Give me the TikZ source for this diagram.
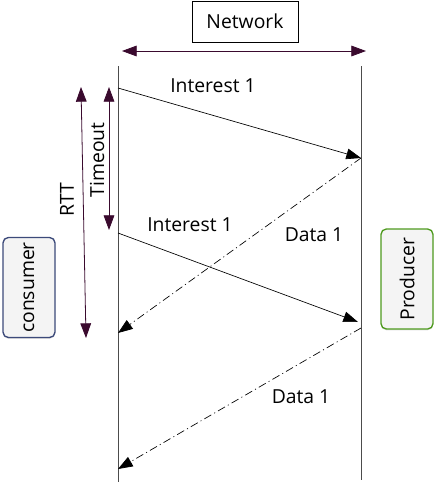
\documentclass[tikz,border=0pt]{standalone}
\usepackage{fontspec}
\setmainfont{Open Sans}
\usetikzlibrary{arrows.meta,shadows}
\definecolor{plum}{HTML}{3A0A2E}
\definecolor{consborder}{HTML}{3C4A7A}
\definecolor{prodborder}{HTML}{4E9A1E}
\definecolor{boxfill}{HTML}{F4F4F4}
\tikzset{
  px/.style={x=0.75pt,y=-0.75pt},
  lifeline/.style={draw=black!70,line width=0.6pt},
  msg/.style={draw=black,line width=0.5pt,-{Triangle[length=11pt,width=8pt]}},
  reply/.style={msg,dash pattern=on 6pt off 2.5pt on 0.8pt off 2.5pt},
  span/.style={draw=plum,line width=0.6pt,{Triangle[length=11pt,width=8pt,fill=plum]}-{Triangle[length=11pt,width=8pt,fill=plum]}},
  lbl/.style={font=\fontsize{14.5}{17}\selectfont,inner sep=0pt},
  actor/.style={rounded corners=4pt,line width=1pt,fill=boxfill,minimum height=39pt,minimum width=75pt,drop shadow={shadow xshift=0pt,shadow yshift=-1pt,opacity=0.25}},
}
\begin{document}
\begin{tikzpicture}[px]
\useasboundingbox (0,0) rectangle (433,486);
% network box and span
\node[draw,line width=0.5pt,minimum width=79.5pt,minimum height=30.5pt,lbl] (net) at (245,21.5) {Network};
\coordinate (nl) at (122,51);
\coordinate (nr) at (366,51);
\draw[span] (nl) -- (nr);
% lifelines
\coordinate (ct) at (118,66); \coordinate (cb) at (118,482);
\coordinate (pt) at (361,66); \coordinate (pb) at (361,480);
\draw[lifeline] (ct) -- (cb);
\draw[lifeline] (pt) -- (pb);
% message points
\coordinate (i1s) at (118,88);  \coordinate (i1e) at (361,158);
\coordinate (i2s) at (118,233); \coordinate (i2e) at (358,322);
\coordinate (d1s) at (361,158); \coordinate (d1e) at (118,333);
\coordinate (d2s) at (361,328); \coordinate (d2e) at (118,469);
\draw[msg] (i1s) -- (i1e);
\draw[msg] (i2s) -- (i2e);
\draw[reply] (d1s) -- (d1e);
\draw[reply] (d2s) -- (d2e);
\node[lbl] (li1) at (213,86) {Interest 1};
\node[lbl] (li2) at (190,225) {Interest 1};
\node[lbl] (ld1) at (314,235) {Data 1};
\node[lbl] (ld2) at (301,397) {Data 1};
% RTT and timeout spans
\coordinate (rt) at (81,87); \coordinate (rb) at (86,338);
\coordinate (tt) at (109,87); \coordinate (tb) at (109,230);
\draw[span] (rt) -- (rb);
\draw[span] (tt) -- (tb);
\node[lbl,rotate=90] (lrtt) at (67,200) {RTT};
\node[lbl,rotate=90] (lto) at (97,160) {Timeout};
% end points
\node[actor,draw=consborder,rotate=90,lbl] (cons) at (29,287.5) {consumer};
\node[actor,draw=prodborder,rotate=90,lbl] (prod) at (407,279) {Producer};
\end{tikzpicture}
\end{document}
